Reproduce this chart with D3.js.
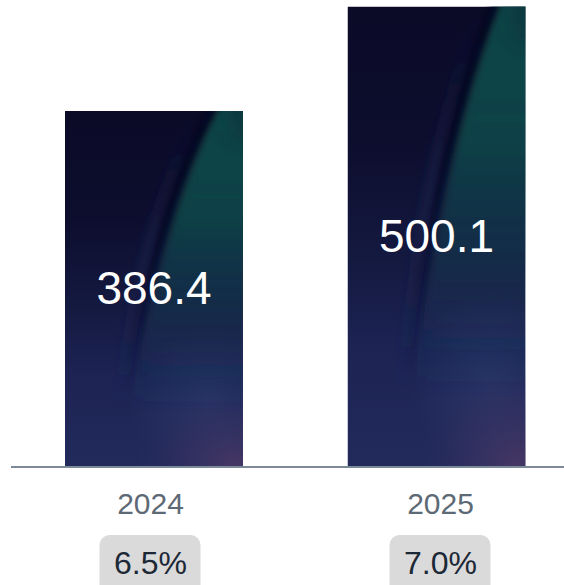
<!DOCTYPE html>
<html>
<head>
<meta charset="utf-8">
<script src="https://cdn.jsdelivr.net/npm/d3@7"></script>
<style>
  html, body { margin: 0; padding: 0; background: #ffffff; }
  svg { display: block; font-family: "Liberation Sans", Arial, sans-serif; }
</style>
</head>
<body>
<svg id="chart" width="564" height="585"></svg>
<script>
const categories = ["2024", "2025"];
const values = [386.4, 500.1];
const growth = ["6.5%", "7.0%"];

const W = 564, H = 585;
const baseY = 466;
const svg = d3.select("#chart");
const defs = svg.append("defs");

const x = d3.scaleBand().domain(categories).range([12.74, 577.74])
  .paddingInner(0.37).paddingOuter(0.185);
const xl = d3.scalePoint().domain(categories).range([150.5, 440.5]);
const y = d3.scaleLinear().domain([0, 507.2]).range([baseY, 0]);

// gradients
const base = defs.append("linearGradient").attr("id", "baseGrad")
  .attr("x1", 0).attr("y1", 0).attr("x2", 0).attr("y2", 1);
[[0, "#0b0a27"], [0.3, "#0d0e2e"], [0.55, "#141940"], [0.75, "#1d2454"], [1, "#222a5c"]]
  .forEach(([o, c]) => base.append("stop").attr("offset", o).attr("stop-color", c));

const teal = defs.append("linearGradient").attr("id", "tealGrad")
  .attr("gradientUnits", "objectBoundingBox")
  .attr("x1", 0).attr("y1", 0).attr("x2", 0).attr("y2", 1);
[[0, "#0f4748", 1], [0.35, "#0e4448", 0.95], [0.6, "#103b4d", 0.65], [0.8, "#163454", 0.3], [1, "#1a2f58", 0]]
  .forEach(([o, c, a]) => teal.append("stop").attr("offset", o).attr("stop-color", c).attr("stop-opacity", a));

const streakGrad = defs.append("linearGradient").attr("id", "streakGrad")
  .attr("x1", 0).attr("y1", 0).attr("x2", 0).attr("y2", 1);
[[0, "#06061c", 0.85], [0.5, "#07081f", 0.6], [1, "#0a0c28", 0]]
  .forEach(([o, c, a]) => streakGrad.append("stop").attr("offset", o).attr("stop-color", c).attr("stop-opacity", a));

const bandGrad = defs.append("linearGradient").attr("id", "bandGrad")
  .attr("x1", 0).attr("y1", 0).attr("x2", 0).attr("y2", 1);
[[0, "#1a2150", 0], [0.45, "#1c2856", 0.4], [1, "#1c2856", 0]]
  .forEach(([o, c, a]) => bandGrad.append("stop").attr("offset", o).attr("stop-color", c).attr("stop-opacity", a));

const purple = defs.append("radialGradient").attr("id", "purpleGrad")
  .attr("cx", 0.5).attr("cy", 0.5).attr("r", 0.5);
[[0, "#4a3865", 0.9], [0.5, "#3e3462", 0.45], [1, "#2c2d5e", 0]]
  .forEach(([o, c, a]) => purple.append("stop").attr("offset", o).attr("stop-color", c).attr("stop-opacity", a));

const blueGlow = defs.append("radialGradient").attr("id", "blueGlow")
  .attr("cx", 0.5).attr("cy", 0.5).attr("r", 0.5);
[[0, "#2e3a6c", 0.7], [1, "#2e3a6c", 0]]
  .forEach(([o, c, a]) => blueGlow.append("stop").attr("offset", o).attr("stop-color", c).attr("stop-opacity", a));

function mkBlur(id, sd) {
  const f = defs.append("filter").attr("id", id).attr("x", "-30%").attr("y", "-30%")
    .attr("width", "160%").attr("height", "160%");
  f.append("feGaussianBlur").attr("stdDeviation", sd);
}
mkBlur("blurA", 5);
mkBlur("blurB", 3);
mkBlur("blurC", 10);

categories.forEach((cat, i) => {
  const bx = x(cat), bw = x.bandwidth();
  const by = y(values[i]), bh = baseY - by;
  const cid = "clip" + i;
  defs.append("clipPath").attr("id", cid).append("rect")
    .attr("x", bx).attr("y", by).attr("width", bw).attr("height", bh);
  const g = svg.append("g").attr("clip-path", `url(#${cid})`);
  const px = t => bx + t * bw, py = t => by + t * bh;
  g.append("rect").attr("x", bx).attr("y", by).attr("width", bw).attr("height", bh)
    .attr("fill", "url(#baseGrad)");
  g.append("ellipse").attr("cx", px(0.8)).attr("cy", py(0.82))
    .attr("rx", bw * 0.45).attr("ry", bh * 0.2).attr("fill", "url(#blueGlow)");
  g.append("ellipse").attr("cx", px(0.95)).attr("cy", baseY)
    .attr("rx", bw * 0.55).attr("ry", bh * 0.22).attr("fill", "url(#purpleGrad)");
  g.append("path")
    .attr("d", `M${px(0.76)},${py(0)} Q${px(0.44)},${py(0.3)} ${px(0.3)},${py(0.85)}`)
    .attr("fill", "none").attr("stroke", "url(#bandGrad)").attr("stroke-width", 14)
    .attr("filter", "url(#blurA)");
  // teal region
  g.append("path")
    .attr("d", `M${px(0.86)},${py(-0.02)} Q${px(0.53)},${py(0.3)} ${px(0.37)},${py(0.85)} L${px(1.15)},${py(0.85)} L${px(1.15)},${py(-0.02)} Z`)
    .attr("fill", "url(#tealGrad)").attr("filter", "url(#blurA)");
  g.append("ellipse").attr("cx", px(1.02)).attr("cy", py(0.0))
    .attr("rx", bw * 0.12).attr("ry", bh * 0.08).attr("fill", "#0c2436").attr("opacity", 0.4)
    .attr("filter", "url(#blurC)");
  g.append("path")
    .attr("d", `M${px(0.84)},${py(-0.02)} Q${px(0.5)},${py(0.3)} ${px(0.345)},${py(0.8)}`)
    .attr("fill", "none").attr("stroke", "url(#streakGrad)").attr("stroke-width", 7)
    .attr("filter", "url(#blurB)");

  svg.append("text").attr("x", bx + bw / 2).attr("y", by + bh / 2)
    .attr("text-anchor", "middle").attr("dominant-baseline", "central")
    .attr("fill", "#ffffff").attr("font-size", 46).text(values[i]);
});

svg.append("line").attr("x1", 11).attr("x2", W).attr("y1", 467).attr("y2", 467)
  .attr("stroke", "#7c8a97").attr("stroke-width", 2);

svg.selectAll(".yr").data(categories).enter().append("text")
  .attr("x", d => xl(d)).attr("y", 514)
  .attr("text-anchor", "middle").attr("fill", "#5d6a76").attr("font-size", 30)
  .text(d => d);

const badges = svg.selectAll(".badge").data(categories).enter().append("g");
badges.append("rect")
  .attr("x", d => xl(d) - 51).attr("y", 535)
  .attr("width", 101).attr("height", 70).attr("rx", 10)
  .attr("fill", "#dadada");
badges.append("text")
  .attr("x", d => xl(d)).attr("y", 574)
  .attr("text-anchor", "middle").attr("fill", "#1c2836").attr("font-size", 32)
  .text((d, i) => growth[i]);
</script>
</body>
</html>
